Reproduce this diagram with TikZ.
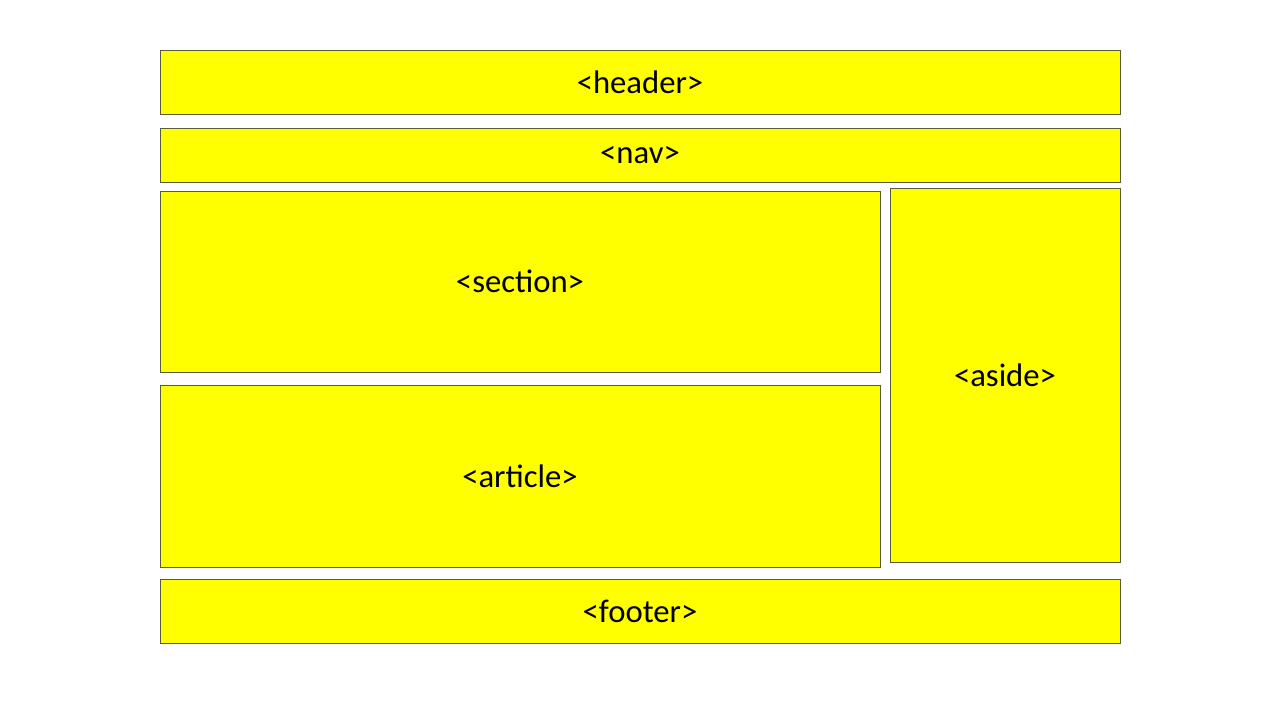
\documentclass[tikz,border=0pt]{standalone}
\usepackage{fontspec}
\setmainfont{Carlito}
\usepackage{tikz}
\definecolor{boxyellow}{RGB}{255,255,0}
\definecolor{boxline}{RGB}{90,90,60}

\begin{document}
\begin{tikzpicture}[font=\fontsize{18.6}{22}\selectfont,
	box/.style={draw=boxline, line width=0.5pt, fill=boxyellow, rectangle, inner sep=0pt}]
	\useasboundingbox (0,0) rectangle (25.6,14.4);
	% page blocks
	\node[box, minimum width=19.2cm, minimum height=1.28cm] (header) at (12.8,12.76) {\raisebox{-1pt}{<header>}};
	\node[box, minimum width=19.2cm, minimum height=1.08cm] (nav) at (12.8,11.3) {\raisebox{-1pt}{<nav>}};
	\node[box, minimum width=14.4cm, minimum height=3.62cm] (section) at (10.4,8.77) {\raisebox{-1pt}{<section>}};
	\node[box, minimum width=14.4cm, minimum height=3.64cm] (article) at (10.4,4.88) {\raisebox{-1pt}{<article>}};
	\node[box, minimum width=4.6cm, minimum height=7.48cm] (aside) at (20.1,6.9) {\raisebox{-1pt}{<aside>}};
	\node[box, minimum width=19.2cm, minimum height=1.28cm] (footer) at (12.8,2.18) {\raisebox{-1pt}{<footer>}};
\end{tikzpicture}
\end{document}
